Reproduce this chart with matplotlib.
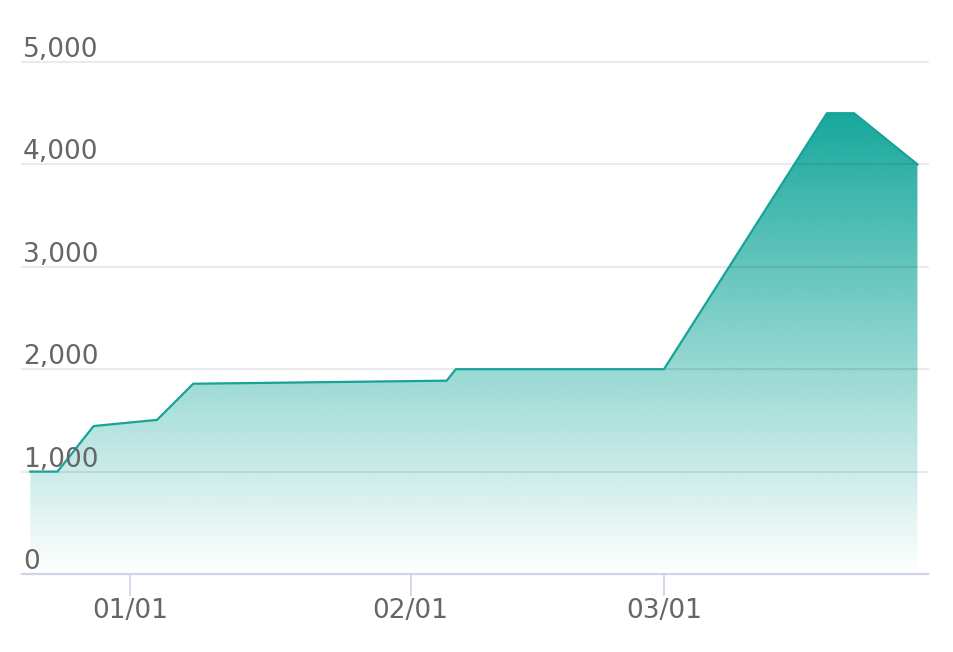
import matplotlib
matplotlib.use('Agg')
import matplotlib.pyplot as plt
import matplotlib.dates as mdates
import matplotlib.transforms as mtransforms
import numpy as np
import pandas as pd

dates = ['2022-12-21', '2022-12-24', '2022-12-28', '2023-01-04', '2023-01-08',
         '2023-02-05', '2023-02-06', '2023-03-01', '2023-03-19', '2023-03-22',
         '2023-03-29']
values = [1000, 1000, 1445, 1505, 1858, 1888, 2000, 2000, 4500, 4500, 4000]
y_ticks = [0, 1000, 2000, 3000, 4000, 5000]
x_ticks = ['2023-01-01', '2023-02-01', '2023-03-01']

teal = '#16a89c'
line_color = '#17a398'
text_color = '#666666'
axis_color = '#cfd5e5'

x = mdates.date2num(pd.to_datetime(dates))
y = np.array(values, dtype=float)

fig = plt.figure(figsize=(9.54, 6.52), dpi=100)
ax = fig.add_axes([22 / 954, 78 / 652, 906 / 954, 512 / 652])

# gradient fill under the line, clipped to the area polygon
poly = ax.fill_between(x, y, 0, facecolor='none', edgecolor='none')
rgb = matplotlib.colors.to_rgb(teal)
grad = np.zeros((256, 1, 4))
grad[:, 0, 0] = rgb[0]
grad[:, 0, 1] = rgb[1]
grad[:, 0, 2] = rgb[2]
grad[:, 0, 3] = np.linspace(1, 0, 256)
img = ax.imshow(grad, aspect='auto', extent=[x.min(), x.max(), 0, y.max()],
                origin='upper', zorder=1, interpolation='bilinear')
img.set_clip_path(poly.get_paths()[0], transform=ax.transData)

ax.plot(x, y, color=line_color, linewidth=1.6, zorder=3, solid_joinstyle='round')

ax.set_ylim(0, 5000)
ax.set_xlim(mdates.date2num(pd.Timestamp('2022-12-20 02:00')),
            mdates.date2num(pd.Timestamp('2023-03-30 04:00')))

ax.set_yticks(y_ticks)
ax.yaxis.grid(True, color='black', alpha=0.09, linewidth=1.3, clip_on=False)
ax.set_axisbelow(False)
ax.tick_params(axis='y', length=0, labelleft=False)

trans = mtransforms.offset_copy(ax.get_yaxis_transform(), fig=fig, x=1, y=5, units='dots')
for v in y_ticks:
    ax.text(0, v, '{:,}'.format(v), transform=trans, ha='left', va='baseline',
            fontsize=19, color=text_color)

ax.set_xticks(mdates.date2num(pd.to_datetime(x_ticks)))
ax.xaxis.set_major_formatter(mdates.DateFormatter('%m/%d'))
ax.tick_params(axis='x', length=16, width=1.3, color=axis_color, pad=1,
               labelsize=19, labelcolor=text_color)

for side in ['top', 'right', 'left']:
    ax.spines[side].set_visible(False)
ax.spines['bottom'].set_color(axis_color)
ax.spines['bottom'].set_linewidth(1.6)
ax.spines['bottom'].set_zorder(4)

fig.savefig('out.png', dpi=100)
